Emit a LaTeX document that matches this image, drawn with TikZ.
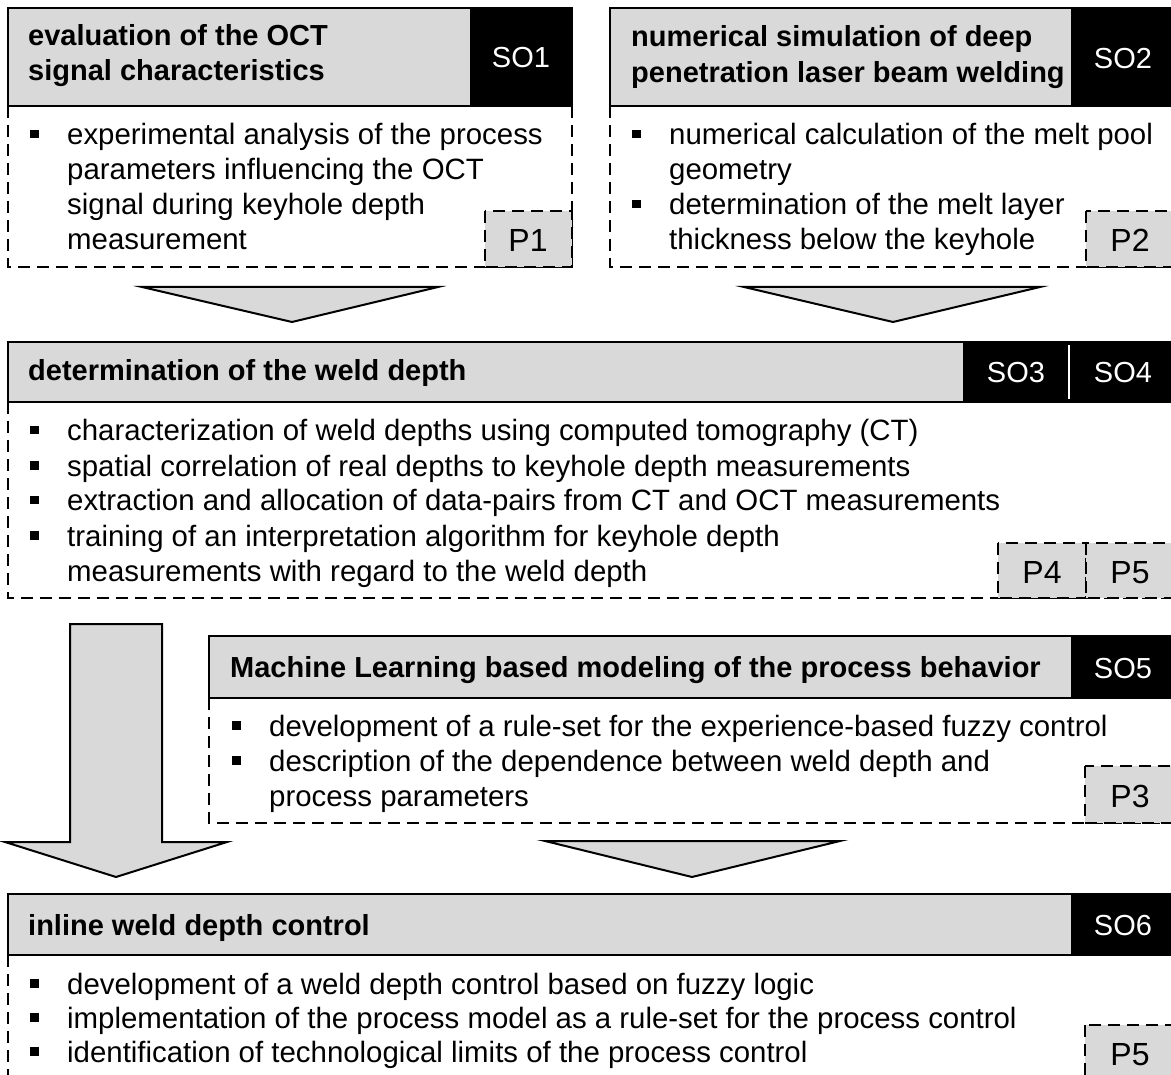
\documentclass[tikz,border=0pt]{standalone}
\usepackage{fontspec}
\setmainfont{Liberation Sans}
\definecolor{hdr}{RGB}{217,217,217}
\tikzset{
  hdrbox/.style={draw=black, line width=2pt, fill=hdr},
  sofill/.style={fill=black},
  bodyline/.style={draw=black, line width=1.8pt, dash pattern=on 12pt off 7pt},
  pbox/.style={draw=black, line width=1.8pt, dash pattern=on 12pt off 7pt, fill=hdr},
  blockarrow/.style={draw=black, line width=2pt, fill=hdr, line join=miter},
  title/.style={font=\fontsize{29}{35}\selectfont\bfseries, anchor=base west, inner sep=0pt},
  sotext/.style={font=\fontsize{29}{35}\selectfont, text=white, anchor=base, inner sep=0pt},
  ptext/.style={font=\fontsize{32}{35}\selectfont, anchor=base, inner sep=0pt},
  item/.style={font=\fontsize{29.4}{35}\selectfont, anchor=base west, inner sep=0pt},
}
\newcommand\bitem{\makebox[37pt][l]{\rule[6.5pt]{8.5pt}{8.5pt}}}
\newcommand\bcont{\hspace*{37pt}}
\begin{document}
\begin{tikzpicture}[x=1pt,y=-1pt]
\useasboundingbox (0,0) rectangle (1171,1075);

% ---------- SO1: OCT signal characteristics ----------
\draw[bodyline] (8,106) -- (8,267) -- (572,267) -- (572,106);
\draw[pbox] (485,211) rectangle (572,267);
\draw[hdrbox] (8,8) rectangle (572,106);
\fill[sofill] (470,8) rectangle (573,107);
\node[title] (t1a) at (28,46) {evaluation of the OCT};
\node[title] (t1b) at (28,81) {signal characteristics};
\node[sotext] (so1) at (521,68) {SO1};
\node[item] (l1a) at (30,145) {\bitem experimental analysis of the process};
\node[item] (l1b) at (30,180) {\bcont parameters influencing the OCT};
\node[item] (l1c) at (30,215) {\bcont signal during keyhole depth};
\node[item] (l1d) at (30,250) {\bcont measurement};
\node[ptext] (p1) at (528,252) {P1};

% ---------- SO2: numerical simulation ----------
\draw[bodyline] (610,106) -- (610,267) -- (1175,267) -- (1175,106);
\draw[pbox] (1086,211) rectangle (1175,267);
\draw[hdrbox] (610,8) rectangle (1175,106);
\fill[sofill] (1071,8) rectangle (1176,107);
\node[title] (t2a) at (631,47) {numerical simulation of deep};
\node[title] (t2b) at (631,83) {penetration laser beam welding};
\node[sotext] (so2) at (1123,69) {SO2};
\node[item] (l2a) at (632,145) {\bitem numerical calculation of the melt pool};
\node[item] (l2b) at (632,180) {\bcont geometry};
\node[item] (l2c) at (632,215) {\bitem determination of the melt layer};
\node[item] (l2d) at (632,250) {\bcont thickness below the keyhole};
\node[ptext] (p2) at (1130,252) {P2};

% ---------- arrows into SO3/SO4 ----------
\coordinate (a1l) at (142,287); \coordinate (a1r) at (438,287); \coordinate (a1t) at (292,322);
\coordinate (a2l) at (744,287); \coordinate (a2r) at (1040,287); \coordinate (a2t) at (893,322);
\draw[blockarrow] (a1l) -- (a1r) -- (a1t) -- cycle;
\draw[blockarrow] (a2l) -- (a2r) -- (a2t) -- cycle;

% ---------- SO3/SO4: weld depth ----------
\draw[bodyline] (8,402) -- (8,598) -- (1175,598);
\draw[pbox] (998,543) rectangle (1086,598);
\draw[pbox] (1086,543) rectangle (1175,598);
\draw[hdrbox] (8,342) rectangle (1175,402);
\fill[sofill] (963,342) rectangle (1176,403);
\draw[white, line width=2pt] (1069,345) -- (1069,399);
\node[title] (t3) at (28,381) {determination of the weld depth};
\node[sotext] (so3) at (1016,383) {SO3};
\node[sotext] (so4) at (1123,383) {SO4};
\node[item] (l3a) at (30,441) {\bitem characterization of weld depths using computed tomography (CT)};
\node[item] (l3b) at (30,476) {\bitem spatial correlation of real depths to keyhole depth measurements};
\node[item] (l3c) at (30,511) {\bitem extraction and allocation of data-pairs from CT and OCT measurements};
\node[item] (l3d) at (30,546) {\bitem training of an interpretation algorithm for keyhole depth};
\node[item] (l3e) at (30,581) {\bcont measurements with regard to the weld depth};
\node[ptext] (p4) at (1042,583) {P4};
\node[ptext] (p5a) at (1130,583) {P5};

% ---------- long arrow down to SO6 ----------
\draw[blockarrow] (70,624) -- (162,624) -- (162,842) -- (227,842) -- (116,877)
  -- (5,842) -- (70,842) -- cycle;

% ---------- SO5: machine learning ----------
\draw[bodyline] (209,698) -- (209,823) -- (1175,823);
\draw[pbox] (1085,766) rectangle (1175,823);
\draw[hdrbox] (209,636) rectangle (1175,698);
\fill[sofill] (1071,636) rectangle (1176,699);
\node[title] (t5) at (230,677) {Machine Learning based modeling of the process behavior};
\node[sotext] (so5) at (1123,678) {SO5};
\node[item] (l5a) at (232,736) {\bitem development of a rule-set for the experience-based fuzzy control};
\node[item] (l5b) at (232,771) {\bitem description of the dependence between weld depth and};
\node[item] (l5c) at (232,806) {\bcont process parameters};
\node[ptext] (p3) at (1130,807) {P3};

% ---------- arrow from SO5 to SO6 ----------
\coordinate (a3l) at (545,841); \coordinate (a3r) at (840,841); \coordinate (a3t) at (692,877);
\draw[blockarrow] (a3l) -- (a3r) -- (a3t) -- cycle;

% ---------- SO6: inline control ----------
\draw[bodyline] (8,955) -- (8,1090);
\draw[pbox] (1085,1025) rectangle (1175,1095);
\draw[hdrbox] (8,894) rectangle (1175,955);
\fill[sofill] (1071,894) rectangle (1176,956);
\node[title] (t6) at (28,935) {inline weld depth control};
\node[sotext] (so6) at (1123,935) {SO6};
\node[item] (l6a) at (30,994) {\bitem development of a weld depth control based on fuzzy logic};
\node[item] (l6b) at (30,1028) {\bitem implementation of the process model as a rule-set for the process control};
\node[item] (l6c) at (30,1062) {\bitem identification of technological limits of the process control};
\node[ptext] (p5b) at (1130,1065) {P5};
\end{tikzpicture}
\end{document}
